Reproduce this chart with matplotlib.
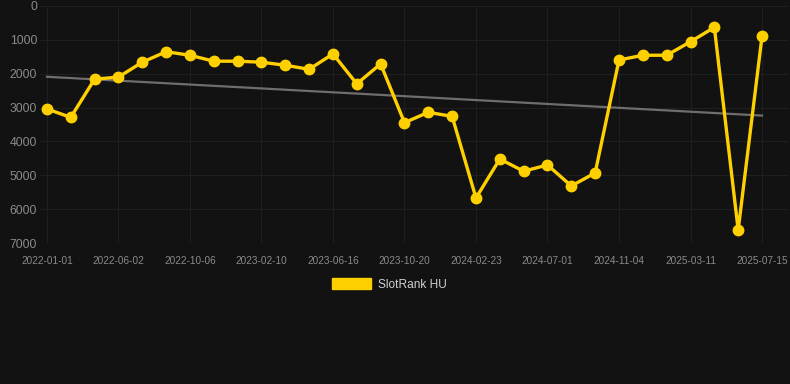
import numpy as np
import matplotlib
matplotlib.use('Agg')
import matplotlib.pyplot as plt
from matplotlib.patches import Patch

# rank values (lower is better, axis inverted)
ranks = [3040, 3290, 2160, 2100, 1660, 1350, 1455, 1630, 1630, 1660,
         1750, 1870, 1415, 2300, 1710, 3445, 3140, 3260, 5670, 4520,
         4880, 4695, 5315, 4930, 1595, 1455, 1455, 1055, 630, 6615, 895]
tick_labels = ['2022-01-01', '2022-06-02', '2022-10-06', '2023-02-10',
               '2023-06-16', '2023-10-20', '2024-02-23', '2024-07-01',
               '2024-11-04', '2025-03-11', '2025-07-15']
series_name = 'SlotRank HU'

bg = '#121212'
yellow = '#FFD000'
txt = '#8a8a8a'

x = np.arange(len(ranks))
y = np.array(ranks, dtype=float)
k, b = np.polyfit(x, y, 1)

fig = plt.figure(figsize=(7.9, 3.84), dpi=100, facecolor=bg)
ax = fig.add_axes([40/790, 1-243/384, 748/790, 237/384])
ax.set_facecolor(bg)

ax.plot(x, k*x + b, color='#6e6e6e', lw=1.6, zorder=2)
ax.plot(x, y, color=yellow, lw=2.4, marker='o', ms=7.5,
        markerfacecolor=yellow, markeredgecolor=yellow, zorder=3,
        solid_joinstyle='miter')

ax.set_ylim(7000, 0)
ax.set_yticks(range(0, 7001, 1000))
ax.set_xlim(-0.29, 31.09)
ax.set_xticks(x[::3])
ax.set_xticklabels(tick_labels)

ax.grid(True, color='#1f1f1f', lw=0.8)
ax.set_axisbelow(True)
for s in ax.spines.values():
    s.set_visible(False)
ax.tick_params(length=0)
ax.tick_params(axis='y', colors=txt, labelsize=8.8, pad=2)
ax.tick_params(axis='x', colors=txt, labelsize=7.2, pad=9)
for lab in ax.get_yticklabels() + ax.get_xticklabels():
    lab.set_fontfamily('Liberation Sans')

leg = fig.legend(handles=[Patch(facecolor=yellow, edgecolor=yellow, label=series_name)],
                 loc='center', bbox_to_anchor=(389/790, 1-284.5/384), frameon=False,
                 handlelength=3.3, handleheight=1.0, handletextpad=0.55,
                 prop={'family': 'Liberation Sans', 'size': 8.6})
for t in leg.get_texts():
    t.set_color('#cfcfcf')

fig.savefig('out.png', dpi=100, facecolor=bg)
